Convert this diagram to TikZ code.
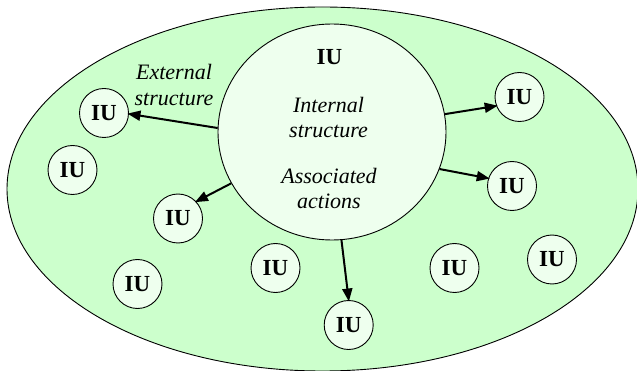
\documentclass[tikz,border=0pt]{standalone}
\usepackage{fontspec}
\setmainfont{Liberation Serif}
\usetikzlibrary{arrows.meta,shapes.geometric}
\definecolor{envgreen}{RGB}{204,255,204}
\definecolor{unitgreen}{RGB}{238,255,238}
\tikzset{
  % the surrounding environment (large ellipse)
  envshape/.style = {ellipse, draw=black, fill=envgreen, line width=0.9pt, inner sep=0pt, minimum width=631pt, minimum height=364pt},
  % the central unit, drawn large
  bigunit/.style  = {ellipse, draw=black, fill=unitgreen, line width=0.9pt, inner sep=0pt, minimum width=228pt, minimum height=216pt},
  % a small unit
  iunit/.style    = {circle, draw=black, fill=unitgreen, line width=0.9pt, inner sep=0pt, minimum size=49pt, font=\fontsize{23}{25}\selectfont\bfseries},
  % italic labels
  ilabel/.style   = {align=center, inner sep=0pt, font=\fontsize{22}{25}\selectfont\itshape},
  % arrow from the central unit to a small one
  uarrow/.style   = {line width=2pt, -{Triangle[length=13pt,width=10pt]}, shorten >=-1.5pt},
}

\begin{document}
\begin{tikzpicture}[x=1pt,y=-1pt]
    \useasboundingbox (0,0) rectangle (637,371);
    % environment and central unit
    \node[envshape] (env) at (322.5,189) {};
    \node[bigunit] (iu) at (332,132) {};
    \node[anchor=base, inner sep=0pt, font=\fontsize{23}{25}\selectfont\bfseries] (iutitle) at (329.5,65) {IU};
    \node[ilabel] (internal) at (328.5,117) {Internal\\structure};
    \node[ilabel] (actions) at (329,188) {Associated\\actions};
    \node[ilabel] (external) at (174,85) {External\\structure};
    % small units
    \node[iunit] (u1) at (104,113) {IU};
    \node[iunit] (u2) at (72.5,170) {IU};
    \node[iunit] (u3) at (178,218.5) {IU};
    \node[iunit] (u4) at (137.5,284) {IU};
    \node[iunit] (u5) at (275.5,268) {IU};
    \node[iunit] (u6) at (348.7,325) {IU};
    \node[iunit] (u7) at (454.5,268) {IU};
    \node[iunit] (u8) at (552,259.5) {IU};
    \node[iunit] (u9) at (512,186) {IU};
    \node[iunit] (u10) at (519.5,97) {IU};
    % arrows out of the central unit
    \draw[uarrow] (iu.178.5) -- (u1.-2);
    \draw[uarrow] (iu.9.5) -- (u10.-159);
    \draw[uarrow] (iu.-19.4) -- (u9.162);
    \draw[uarrow] (iu.-153) -- (u3.43.5);
    \draw[uarrow] (iu.-85.4) -- (u6.90);
\end{tikzpicture}
\end{document}
